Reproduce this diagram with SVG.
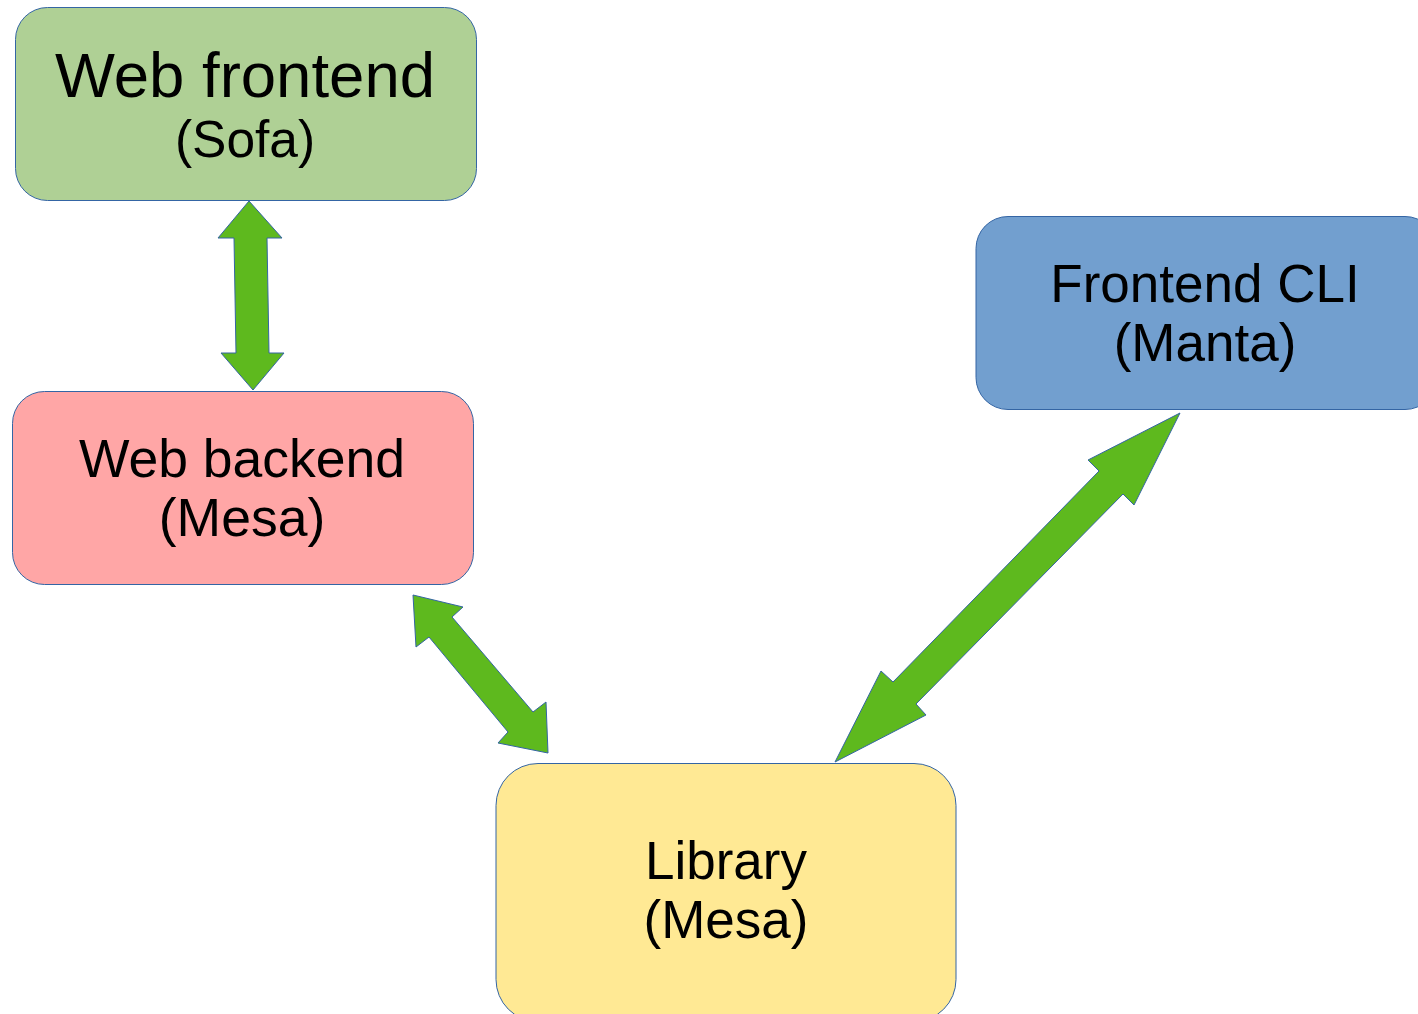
<svg xmlns="http://www.w3.org/2000/svg" width="1418" height="1014" viewBox="0 0 1418 1014">
  <style>
    .box { stroke: #3465a4; stroke-width: 1; }
    .label { font-family: "Liberation Sans", Arial, sans-serif; fill: #000000; text-anchor: middle; }
    .conn { fill: #5eb91e; stroke: #3465a4; stroke-width: 1; stroke-linejoin: miter; }
  </style>
  <rect width="1418" height="1014" fill="#ffffff"/>

  <!-- Bidirectional block arrows between components -->
  <g id="connectors">
    <polygon class="conn" points="249,201 282,238 267,238 269,353 284,353 253,390 221,353 236,353 234,238 218,238"/>
    <polygon class="conn" points="413,595 463,607 452,617 533,712 546,702 548,753 498,743 508,732 429,637 416,647"/>
    <polygon class="conn" points="1180,413 1134,505 1123,494 916,704 926,715 835,762 881,671 893,682 1099,471 1088,460"/>
  </g>

  <g id="web-frontend">
    <rect class="box" x="15.5" y="7.5" width="461" height="193" rx="32" fill="#afd095"/>
    <text class="label" x="245" y="97" font-size="63.5">Web frontend</text>
    <text class="label" x="245" y="157" font-size="51.5">(Sofa)</text>
  </g>

  <g id="web-backend">
    <rect class="box" x="12.5" y="391.5" width="461" height="193" rx="32" fill="#ffa6a6"/>
    <text class="label" x="242" y="477" font-size="53.5">Web backend</text>
    <text class="label" x="242" y="536" font-size="53.5">(Mesa)</text>
  </g>

  <g id="frontend-cli">
    <rect class="box" x="976" y="216.5" width="461" height="193" rx="32" fill="#729fcf"/>
    <text class="label" x="1205" y="302" font-size="53">Frontend CLI</text>
    <text class="label" x="1205" y="361" font-size="53">(Manta)</text>
  </g>

  <g id="library">
    <rect class="box" x="496" y="763.5" width="460" height="258" rx="42" fill="#ffe994"/>
    <text class="label" x="726" y="879" font-size="53">Library</text>
    <text class="label" x="726" y="938" font-size="53">(Mesa)</text>
  </g>
</svg>
